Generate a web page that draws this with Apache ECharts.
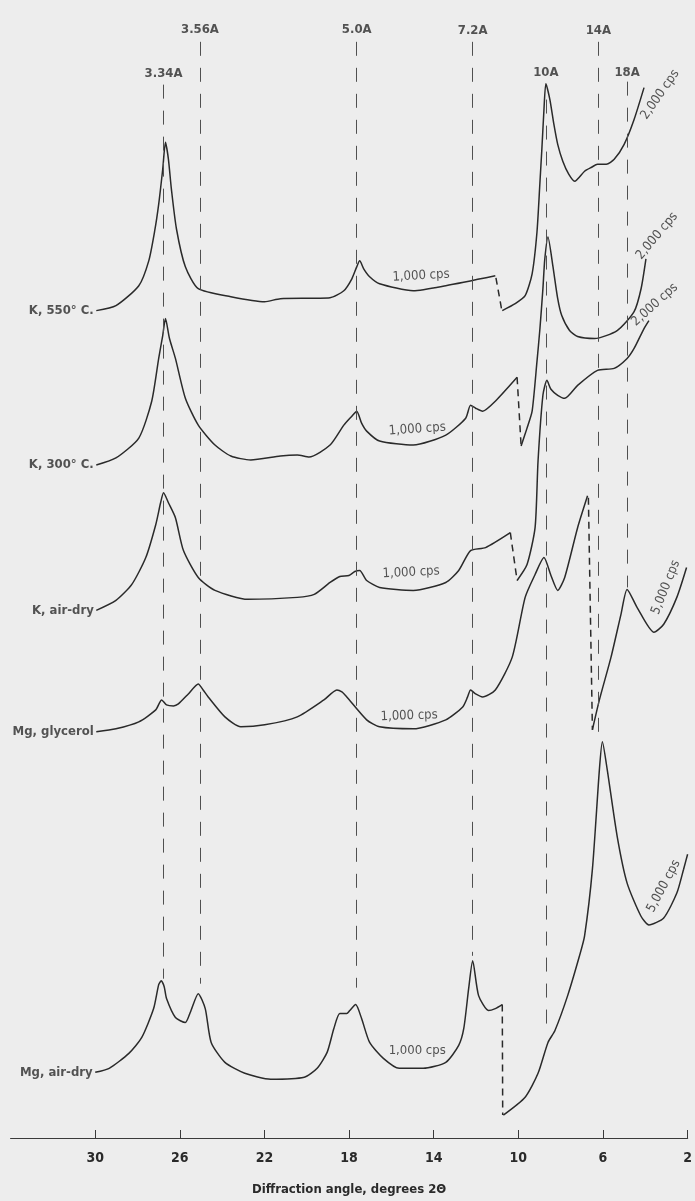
<!DOCTYPE html>
<html>
<head>
<meta charset="utf-8">
<script src="https://cdn.jsdelivr.net/npm/echarts@6/dist/echarts.min.js"></script>
<style>
  html, body { margin: 0; padding: 0; background: #ededed; }
  #chart { width: 695px; height: 1201px; }
</style>
</head>
<body>
<div id="chart"></div>
<script>
// x: diffraction angle (degrees 2θ), y: chart height units
const angleTicks = [30, 26, 22, 18, 14, 10, 6, 2];

const traceNames = ['K, 550° C.', 'K, 300° C.', 'K, air-dry', 'Mg, glycerol', 'Mg, air-dry'];

// K, 550 C
const k550Low = [[29.95,831],[29.02,836],[27.94,856],[27.47,881],[27.19,911],[27.00,938],[26.81,973],[26.68,1000],[26.54,983],[26.40,953],[26.16,913],[25.74,875],[25.13,853],[23.59,845],[21.99,840],[21.25,843],[18.90,844],[18.25,851],[17.87,863],[17.64,875],[17.50,881],[17.31,873],[17.03,865],[16.56,858],[14.97,851],[13.43,856],[11.09,866]];
const k550Gap = [[11.06,864],[10.78,831]];
const k550High = [[10.76,831],[10.15,838],[9.68,846],[9.35,868],[9.12,910],[8.98,960],[8.89,993],[8.79,1033],[8.70,1059],[8.51,1043],[8.32,1018],[8.14,998],[7.90,981],[7.62,968],[7.34,961],[6.87,971],[6.54,975],[6.26,978],[5.84,978],[5.47,983],[5.00,998],[4.53,1023],[4.06,1055]];

// K, 300 C
const k300Low = [[29.95,676],[29.02,683],[27.94,703],[27.33,740],[27.00,783],[26.81,806],[26.68,823],[26.49,803],[26.21,783],[25.74,743],[25.13,716],[24.34,696],[23.59,685],[22.65,681],[21.25,685],[20.45,686],[19.89,684],[18.90,696],[18.25,716],[17.87,725],[17.64,730],[17.41,718],[17.17,710],[16.56,700],[14.97,696],[13.43,706],[12.49,723],[12.26,736],[12.02,733],[11.69,730],[11.09,740],[10.06,764]];
const k300Gap = [[10.06,764],[9.87,695]];
const k300High = [[9.87,695],[9.59,713],[9.35,730],[9.12,780],[8.98,813],[8.84,853],[8.75,883],[8.60,905],[8.37,876],[8.14,843],[7.95,826],[7.58,811],[7.20,805],[6.40,803],[5.33,811],[4.53,830],[4.20,853],[3.97,883]];

// K, air-dry
const kAirLow = [[29.95,530],[29.02,540],[28.27,556],[27.61,583],[27.14,616],[26.91,638],[26.77,648],[26.54,638],[26.21,623],[25.83,590],[25.13,563],[24.34,550],[22.79,541],[20.45,543],[19.65,546],[18.90,558],[18.44,564],[18.01,565],[17.73,569],[17.50,570],[17.17,560],[16.56,553],[14.97,550],[13.43,558],[12.82,570],[12.26,590],[11.55,593],[10.38,608]];
const kAirGap = [[10.38,608],[10.06,560]];
const kAirHigh = [[10.06,560],[9.59,576],[9.21,613],[9.07,680],[8.84,746],[8.65,761],[8.46,752],[8.14,746],[7.81,743],[7.20,756],[6.26,771],[5.47,773],[4.86,783],[4.53,793],[4.06,813],[3.83,821]];

// Mg, glycerol
const mgGlyLow = [[29.95,408],[29.02,411],[27.94,418],[27.14,430],[26.86,440],[26.63,435],[26.30,434],[26.07,436],[25.60,446],[25.13,456],[24.90,450],[24.66,443],[23.87,423],[23.12,413],[21.99,415],[20.45,423],[19.19,440],[18.58,450],[18.34,448],[18.11,443],[17.17,420],[16.56,413],[14.97,411],[13.43,420],[12.63,433],[12.40,443],[12.26,450],[12.02,446],[11.69,443],[11.09,450],[10.29,483],[9.68,543],[9.21,566],[8.79,583],[8.46,565],[8.14,550],[7.81,563],[7.20,613],[6.73,645]];
const mgGlyGap = [[6.69,643],[6.50,410]];
const mgGlyHigh = [[6.50,410],[6.17,440],[5.62,483],[5.15,526],[4.86,551],[4.39,533],[3.59,508],[3.13,516],[2.51,543],[2.05,573]];

// Mg, air-dry
const mgAirLow = [[30.00,66],[29.34,70],[28.41,85],[27.80,101],[27.24,130],[27.00,154],[26.88,158],[26.74,152],[26.63,140],[26.21,121],[25.74,116],[25.51,126],[25.13,145],[24.80,130],[24.52,96],[23.87,76],[22.93,65],[21.71,59],[20.12,61],[19.51,70],[19.04,86],[18.72,110],[18.44,125],[18.11,125],[17.97,128],[17.69,134],[17.41,120],[17.03,96],[16.38,80],[15.63,70],[14.50,70],[13.43,76],[12.82,93],[12.58,110],[12.35,150],[12.16,178],[11.88,143],[11.41,128],[11.09,130],[10.76,134]];
const mgAirGap = [[10.76,134],[10.74,23]];
const mgAirHigh = [[10.71,23],[9.68,41],[9.07,65],[8.60,96],[8.27,108],[7.67,143],[7.11,183],[6.87,203],[6.50,270],[6.17,370],[6.03,398],[5.80,370],[5.33,303],[4.86,256],[4.21,223],[3.83,214],[3.13,221],[2.51,246],[2.19,270],[2.00,285]];

// d-spacing reference lines
const refLabels = ['3.34A', '3.56A', '5.0A', '7.2A', '10A', '14A', '18A'];
const refAngles = [26.77, 25.05, 17.64, 12.16, 8.70, 6.22, 4.86];
const refTop = [1058, 1101, 1101, 1101, 1043, 1101, 1061];
const refBottom = [160, 155, 151, 183, 110, 406, 553];
const refLabelY = [1069, 1113, 1113, 1112, 1070, 1112, 1070];

// scale notes
const cpsLabels = ['1,000 cps', '1,000 cps', '1,000 cps', '1,000 cps', '1,000 cps', '2,000 cps', '2,000 cps', '2,000 cps', '5,000 cps', '5,000 cps'];
const cpsAngles = [14.60, 14.78, 15.07, 15.16, 14.78, 3.30, 3.45, 3.55, 3.03, 3.13];
const cpsY = [866, 712, 568, 424, 88, 1048, 906, 837, 553, 253];
const cpsRotate = [3, 4, 3, 2, 0, 55, 50, 42, 68, 62];

const lows = [k550Low, k300Low, kAirLow, mgGlyLow, mgAirLow];
const highs = [k550High, k300High, kAirHigh, mgGlyHigh, mgAirHigh];
const gaps = [k550Gap, k300Gap, kAirGap, mgGlyGap, mgAirGap];

const FONT = "'Liberation Sans Narrow', 'DejaVu Sans Condensed', 'Roboto', sans-serif";
const INK = '#2a2a2a';

const chart = echarts.init(document.getElementById('chart'));

const series = [];

// dashed reference lines
series.push({
  type: 'line',
  data: [],
  silent: true,
  z: 1,
  markLine: {
    symbol: 'none',
    silent: true,
    label: { show: false },
    lineStyle: { color: '#505050', width: 1, type: [14, 12] },
    data: refAngles.map((a, i) => [
      { coord: [a, refTop[i]] },
      { coord: [a, refBottom[i]] }
    ])
  }
});

traceNames.forEach((name, i) => {
  const common = {
    type: 'line',
    showSymbol: false,
    smooth: 0.22,
    z: 3,
    lineStyle: { color: INK, width: 1.5 }
  };
  series.push(Object.assign({ name: name, data: lows[i] }, common));
  series.push(Object.assign({ name: name + ' hi', data: highs[i] }, common));
  series.push({
    type: 'line',
    showSymbol: false,
    z: 3,
    data: gaps[i],
    lineStyle: { color: INK, width: 1.5, type: [7, 5] }
  });
});

// texts
const textData = [];
traceNames.forEach((name, i) => {
  textData.push({
    value: lows[i][0],
    label: { formatter: name, position: 'left', distance: 2, fontSize: 13, fontWeight: 'bold' }
  });
});
refLabels.forEach((t, i) => {
  textData.push({
    value: [refAngles[i], refLabelY[i]],
    label: { formatter: t, position: 'inside', fontSize: 13, fontWeight: 'bold' }
  });
});
cpsLabels.forEach((t, i) => {
  textData.push({
    value: [cpsAngles[i], cpsY[i]],
    label: { formatter: t, position: 'inside', rotate: cpsRotate[i], fontSize: 13 }
  });
});

series.push({
  type: 'scatter',
  symbolSize: 1,
  itemStyle: { color: 'rgba(0,0,0,0)' },
  silent: true,
  z: 5,
  label: { show: true, color: '#2a2a2a', fontFamily: FONT },
  data: textData
});

chart.setOption({
  backgroundColor: '#ededed',
  animation: false,
  grid: { left: 10.6, right: 1, top: 0, bottom: 58 },
  xAxis: {
    type: 'value',
    min: 2,
    max: 34,
    inverse: true,
    splitLine: { show: false },
    axisLine: { lineStyle: { color: '#3a3a3a', width: 1.2 } },
    axisTick: { inside: true, length: 8, customValues: angleTicks, lineStyle: { color: '#3a3a3a' } },
    axisLabel: { customValues: angleTicks, margin: 13, color: '#2a2a2a', fontFamily: FONT, fontSize: 14, fontWeight: 'bold' },
    name: 'Diffraction angle, degrees 2Θ',
    nameLocation: 'middle',
    nameGap: 45,
    nameTextStyle: { color: '#2a2a2a', fontFamily: FONT, fontSize: 13, fontWeight: 'bold' }
  },
  yAxis: {
    type: 'value',
    min: 0,
    max: 1143,
    show: false
  },
  series: series
});
</script>
</body>
</html>
